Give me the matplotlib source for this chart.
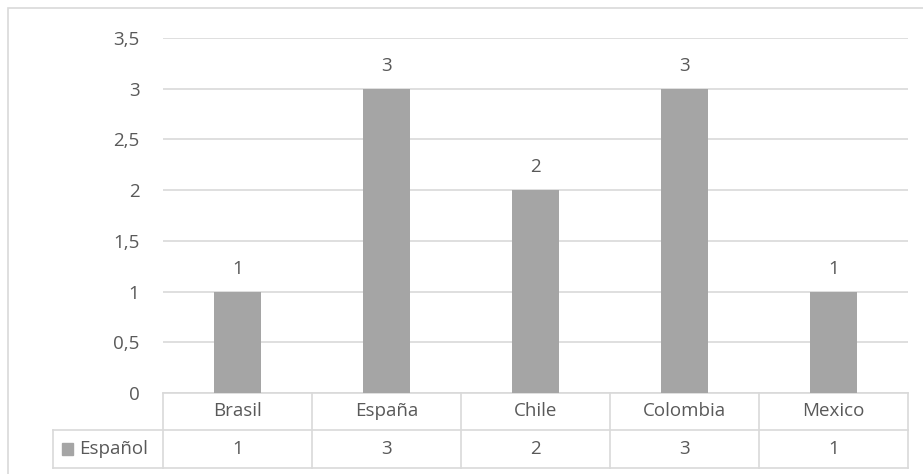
import matplotlib.pyplot as plt
from matplotlib.patches import Rectangle
from matplotlib.lines import Line2D
import numpy as np

paises = ["Brasil", "España", "Chile", "Colombia", "Mexico"]
valores = [1, 3, 2, 3, 1]
serie = "Español"
yticks = [0, 0.5, 1, 1.5, 2, 2.5, 3, 3.5]

gris = "#A5A5A5"
texto = "#595959"
linea = "#D9D9D9"
fs = 13.5
plt.rcParams['font.family'] = ['Open Sans', 'DejaVu Sans']

W, H = 923, 474
fig = plt.figure(figsize=(W / 100, H / 100), dpi=100)
fig.patches.append(Rectangle((8 / W, -0.01), 1.02, (H - 8) / H + 0.01,
                             transform=fig.transFigure, fill=False,
                             edgecolor=linea, lw=1.2))

ax = fig.add_axes([163 / W, 81 / H, 745 / W, 355 / H])
x = np.arange(len(paises))
bars = ax.bar(x, valores, width=0.315, color=gris, zorder=3)
ax.bar_label(bars, labels=[str(v) for v in valores], padding=10,
             fontsize=fs, color=texto)

ax.set_xlim(-0.5, len(paises) - 0.5)
ax.set_ylim(0, 3.5)
ax.set_yticks(yticks)
ax.set_yticklabels([("%g" % t).replace(".", ",") for t in yticks],
                   fontsize=fs, color=texto)
ax.tick_params(axis="y", length=0, pad=17)
ax.set_xticks([])
ax.grid(axis="y", color=linea, lw=1.2, zorder=0)
for s in ax.spines.values():
    s.set_visible(False)

# data table
n = len(paises)
r1 = -37 / 355
r2 = -75 / 355
left = -110 / 745 * n - 0.5
tr = ax.get_xaxis_transform()
kw = dict(transform=tr, color=linea, lw=1.2, clip_on=False)
ax.add_line(Line2D([-0.5, n - 0.5], [0, 0], **kw))
ax.add_line(Line2D([left, n - 0.5], [r1, r1], **kw))
ax.add_line(Line2D([left, n - 0.5], [r2, r2], **kw))
ax.add_line(Line2D([left, left], [r1, r2], **kw))
for i in range(n + 1):
    ax.add_line(Line2D([i - 0.5, i - 0.5], [0, r2], **kw))

for i, (p, v) in enumerate(zip(paises, valores)):
    ax.text(i, r1 / 2, p, transform=tr, ha="center", va="center",
            fontsize=fs, color=texto)
    ax.text(i, (r1 + r2) / 2, str(v), transform=tr, ha="center",
            va="center", fontsize=fs, color=texto)

ax.add_patch(Rectangle((left + 9 / 149, (r1 + r2) / 2 - 0.016), 11 / 149,
                       0.032, transform=tr, color=gris, clip_on=False))
ax.text(left + 26 / 149, (r1 + r2) / 2, serie, transform=tr, ha="left",
        va="center", fontsize=fs, color=texto)

fig.savefig("out.png", dpi=100)
